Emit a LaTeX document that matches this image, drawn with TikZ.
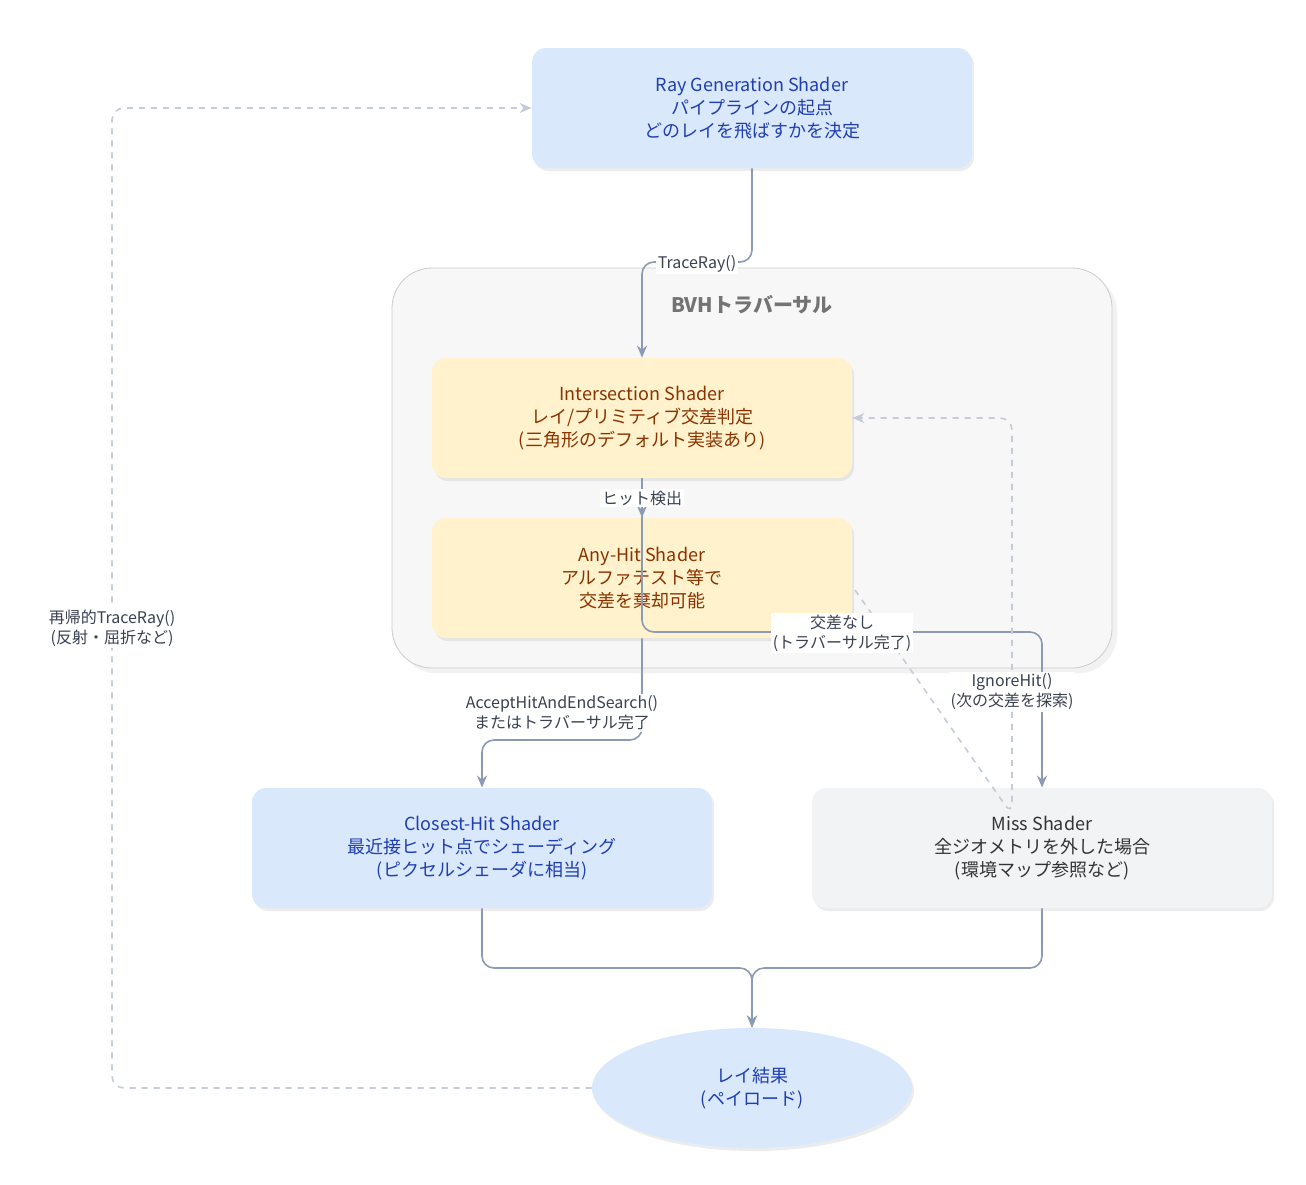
\documentclass[tikz,border=0pt]{standalone}
\usepackage{fontspec}
\setmainfont{Noto Sans CJK JP}
\usetikzlibrary{arrows.meta,shadows,shapes.geometric,positioning}
\definecolor{bluefill}{HTML}{DAE8FC}
\definecolor{bluetext}{HTML}{1F3FB0}
\definecolor{yelfill}{HTML}{FFF2CC}
\definecolor{yeltext}{HTML}{8A3300}
\definecolor{grayfill}{HTML}{F1F3F5}
\definecolor{graytext}{HTML}{333333}
\definecolor{edge}{HTML}{8C9BB5}
\definecolor{dashedge}{HTML}{C5CCD8}
\definecolor{labeltext}{HTML}{3A4150}
\tikzset{
  box/.style={rectangle,rounded corners=7pt,minimum width=210pt,minimum height=60pt,align=center,font=\fontsize{9}{11.5}\selectfont,drop shadow={opacity=.15,shadow xshift=1pt,shadow yshift=-1.5pt}},
  flow/.style={draw=edge,line width=.8pt,rounded corners=6pt,-{Stealth[length=6pt,width=5pt]}},
  back/.style={draw=dashedge,line width=.8pt,dashed,rounded corners=6pt,-{Stealth[length=6pt,width=5pt]}},
  lbl/.style={fill=white,align=center,inner sep=1pt,text=labeltext,font=\fontsize{8}{10}\selectfont}
}
\begin{document}
\begin{tikzpicture}[x=0.5pt,y=-0.5pt]
  \useasboundingbox (0,0) rectangle (1306,1184);
  % BVH container
  \node[draw=black!20,fill=black!3,rounded corners=20pt,minimum width=360pt,minimum height=200pt,drop shadow={opacity=.1}] (bvh) at (752,468) {};
  \node[text=black!55,font=\bfseries\fontsize{10}{12}\selectfont] (bvhtitle) at (752,305) {BVHトラバーサル};

  \node[box,fill=bluefill,text=bluetext,minimum width=220pt] (raygen) at (752,108) {Ray Generation Shader\\パイプラインの起点\\どのレイを飛ばすかを決定};
  \node[box,fill=yelfill,text=yeltext] (isect) at (642,418) {Intersection Shader\\レイ/プリミティブ交差判定\\(三角形のデフォルト実装あり)};
  \node[box,fill=yelfill,text=yeltext] (anyhit) at (642,578) {Any-Hit Shader\\アルファテスト等で\\交差を棄却可能};
  \node[box,fill=bluefill,text=bluetext,minimum width=230pt] (closest) at (482,848) {Closest-Hit Shader\\最近接ヒット点でシェーディング\\(ピクセルシェーダに相当)};
  \node[box,fill=grayfill,text=graytext,minimum width=230pt] (miss) at (1042,848) {Miss Shader\\全ジオメトリを外した場合\\(環境マップ参照など)};
  \node[ellipse,fill=bluefill,text=bluetext,minimum width=160pt,minimum height=60pt,align=center,font=\fontsize{9}{11.5}\selectfont,drop shadow={opacity=.15,shadow xshift=1pt,shadow yshift=-1.5pt}] (result) at (752,1088) {レイ結果\\(ペイロード)};

  \coordinate (ahright) at (855,590);
  \coordinate (ahturn) at (1012,815);

  % flows
  \draw[flow] (raygen.south) -- (752,262) -- (642,262) -- (isect.north);
  \draw[flow] (isect.south) -- (anyhit.north);
  \draw[flow] (isect.south) -- (642,632) -- (1042,632) -- (miss.north);
  \draw[flow] (anyhit.south) -- (642,740) -- (482,740) -- (closest.north);
  \draw[flow] (closest.south) -- (482,968) -- (752,968) -- (result.north);
  \draw[flow] (miss.south) -- (1042,968) -- (752,968) -- (result.north);
  \draw[back] (ahright) -- (ahturn) -- (1012,418) -- (isect.east);
  \draw[back] (result.west) -- (112,1088) -- (112,108) -- (raygen.west);

  % labels
  \node[lbl] (l1) at (697,264) {TraceRay()};
  \node[lbl] (l2) at (642,498) {ヒット検出};
  \node[lbl] (l3) at (842,633) {交差なし\\(トラバーサル完了)};
  \node[lbl] (l4) at (562,713) {AcceptHitAndEndSearch()\\またはトラバーサル完了};
  \node[lbl] (l5) at (1012,692) {IgnoreHit()\\(次の交差を探索)};
  \node[lbl] (l6) at (112,628) {再帰的TraceRay()\\(反射・屈折など)};
\end{tikzpicture}
\end{document}
